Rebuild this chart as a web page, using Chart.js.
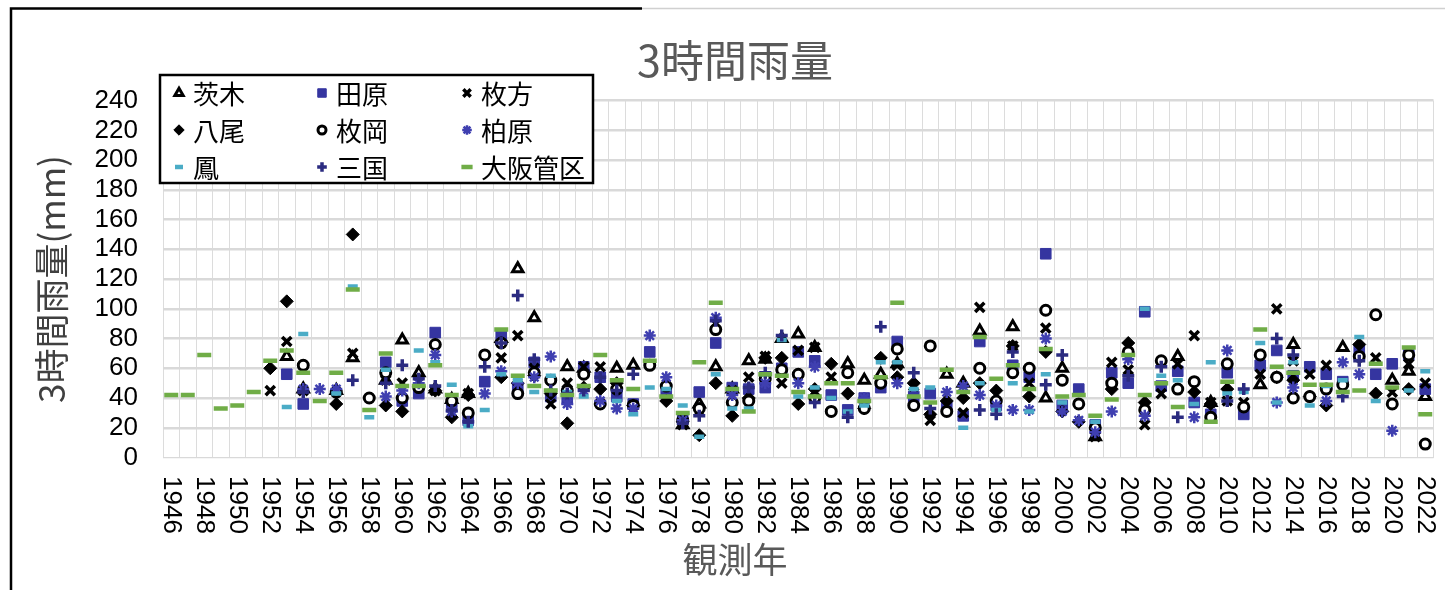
<!DOCTYPE html>
<html lang="ja">
<head>
<meta charset="utf-8">
<title>3時間雨量</title>
<script src="https://cdn.jsdelivr.net/npm/chart.js@4.4.0/dist/chart.umd.min.js"></script>
<style>
  html, body { margin: 0; padding: 0; background: #fff; }
  #wrap { width: 1445px; height: 590px; }
</style>
</head>
<body>
<div id="wrap"><canvas id="myChart" width="1445" height="590"></canvas></div>
<script>
const n = null;

const years = [1946, 1947, 1948, 1949, 1950, 1951,
  1952, 1953, 1954, 1955, 1956, 1957, 1958, 1959, 1960, 1961,
  1962, 1963, 1964, 1965, 1966, 1967, 1968, 1969, 1970, 1971,
  1972, 1973, 1974, 1975, 1976, 1977, 1978, 1979, 1980, 1981,
  1982, 1983, 1984, 1985, 1986, 1987, 1988, 1989, 1990, 1991,
  1992, 1993, 1994, 1995, 1996, 1997, 1998, 1999, 2000, 2001,
  2002, 2003, 2004, 2005, 2006, 2007, 2008, 2009, 2010, 2011,
  2012, 2013, 2014, 2015, 2016, 2017, 2018, 2019, 2020, 2021, 2022];

const ibaraki = [n, n, n, n, n, n,
  n, 68, 46, n, 45, 67, n, 52, 79, 57,
  46, 39, 43, n, 80, 127, 94, n, 61, 60,
  n, 60, 62, n, n, 22, 36, 61, 46, 65,
  66, 80, 83, 74, n, 63, 52, 56, 63, n,
  n, 56, 50, 85, n, 88, n, 40, 60, n,
  14, n, n, n, n, 68, n, 37, n, n,
  49, n, 76, n, n, 74, n, n, 52, 58, 41];

const tawara = [n, n, n, n, n, n,
  n, 56, 36, n, n, n, n, 64, 38, 43,
  84, 37, 25, 51, 83, 46, 64, 41, 40, 61,
  54, 41, 36, 71, 43, 26, 44, 77, 47, 46,
  47, 60, 71, 65, 42, 32, 40, 47, 78, 41,
  43, 34, 28, 78, 35, 62, 54, 137, 35, 46,
  22, 57, 50, 98, 48, 58, 37, 29, 57, 29,
  62, 72, 55, 61, 56, 51, 73, 56, 63, 69, 46];

const hirakata = [n, n, n, n, n, n,
  45, 78, 45, n, n, 70, n, 52, 50, 51,
  45, 29, 43, n, 67, 82, 60, 36, 50, 61,
  61, 49, 35, n, n, 22, 31, 90, 45, 54,
  68, 50, 72, 74, 54, n, n, n, 62, 48,
  25, n, 30, 101, n, 75, 50, 87, n, n,
  14, 64, 59, 22, 43, 63, 82, 37, 38, 37,
  56, 100, 65, 56, 62, n, n, 67, 44, 63, 50];

const yao = [n, n, n, n, n, n,
  60, 105, n, n, 36, 150, n, 35, 31, 48,
  45, 27, 42, n, 54, 50, 55, 43, 23, 47,
  46, 50, 35, n, 38, 24, 15, 50, 28, 40,
  67, 67, 36, 46, 63, 43, 33, 67, 54, 50,
  29, 38, 40, 50, 45, 75, 41, 71, 31, 24,
  n, 46, 77, 37, n, n, 44, 36, 46, n,
  n, 54, 52, 41, 35, n, 76, 43, n, 46, n];

const hiraoka = [n, n, n, n, n, n,
  n, n, 62, n, 44, n, 40, 57, 40, 47,
  76, 38, 30, 69, 77, 43, 57, 52, 45, 56,
  36, 46, 35, 62, 48, 25, 33, 86, 37, 38,
  53, 59, 56, 40, 31, 57, 33, 50, 73, 35,
  75, 31, n, 60, 38, 57, 60, 99, 52, 36,
  20, 50, 71, 32, 65, 46, 51, 27, 63, 34,
  69, 54, 40, 41, 46, 49, 68, 96, 36, 69, 9];

const kashiwara = [n, n, n, n, n, n,
  n, n, 46, 46, 46, n, n, 41, 45, 50,
  69, 31, n, 43, 58, 50, 54, 68, 36, 45,
  38, 33, 33, 82, 54, 25, n, 94, 42, n,
  50, n, 50, 61, n, n, 40, n, 50, n,
  n, 44, 48, 42, 35, 32, 32, 80, 31, 25,
  17, 31, 66, 28, n, n, 27, n, 72, n,
  n, 37, 47, n, 38, 64, 56, n, 18, n, n];

const otori = [n, n, n, n, n, n,
  n, 34, 83, n, 43, 115, 27, 59, n, 72,
  64, 49, 21, 32, 56, 52, 44, 55, 44, 41,
  n, 38, 29, 47, 46, 35, 14, 56, 33, 33,
  56, 79, 41, 47, 40, 31, 35, 64, 64, 46,
  47, n, 20, 50, 32, 50, 31, 56, 37, n,
  24, n, n, 100, 55, 52, 36, 64, 43, 44,
  77, 37, 64, 35, 48, 52, 81, 38, n, 45, 58];

const mikuni = [n, n, n, n, n, n,
  n, n, 44, n, n, 52, n, 50, 62, 53,
  48, 32, 24, 61, 77, 109, 66, 45, 43, 45,
  54, 45, 56, n, n, 23, 28, 92, n, 47,
  57, 82, n, 37, n, 27, n, 88, n, 57,
  33, n, n, 32, 29, 71, n, 49, 69, n,
  n, n, 55, n, 61, 27, n, n, 38, 46,
  n, 80, 69, n, n, 41, 65, n, n, n, n];

const osakaKanku = [42, 42, 69, 33, 35, 44,
  65, 72, 57, 38, 57, 113, 32, 70, 48, 48,
  62, 42, n, n, 86, 55, 48, 45, 42, 48,
  69, 52, 46, 65, 41, 30, 64, 104, 46, 31,
  56, 55, 44, 41, 50, 50, 38, 54, 104, 41,
  37, 59, 44, 81, 53, 62, 46, 73, 41, 42,
  28, 39, 69, 42, 50, 34, n, 24, 51, n,
  86, 61, 57, 49, 49, 44, 45, 63, 47, 74, 29];

const jpFont = '"Noto Sans CJK JP", "Noto Sans", sans-serif';

function series(label, data, style, radius, bg, border, bw) {
    return {
        label: label,
        data: data,
        showLine: false,
        pointStyle: style,
        pointRadius: radius,
        pointHoverRadius: radius,
        pointBackgroundColor: bg,
        pointBorderColor: border,
        pointBorderWidth: bw,
        backgroundColor: bg,
        borderColor: border
    };
}

const datasets = [
    series('茨木', ibaraki, 'triangle', 6, '#ffffff', '#000000', 3),
    series('田原', tawara, 'rect', 7.5, '#3535a0', '#3535a0', 1),
    series('枚方', hirakata, 'crossRot', 6.5, '#000000', '#000000', 3.5),
    series('八尾', yao, 'rectRot', 6.5, '#000000', '#000000', 1),
    series('枚岡', hiraoka, 'circle', 5, '#ffffff', '#000000', 3),
    series('柏原', kashiwara, 'star', 6, '#3f3fb0', '#3f3fb0', 2.5),
    series('鳳', otori, 'line', 5, '#4bacc6', '#4bacc6', 4.5),
    series('三国', mikuni, 'cross', 6, '#2b2b80', '#2b2b80', 3.5),
    series('大阪管区', osakaKanku, 'line', 7, '#70ad47', '#70ad47', 4.5)
];
datasets.forEach((d, i) => { d.order = datasets.length - i; });

// white page + black frame on the left / top
const framePlugin = {
    id: 'frame',
    beforeDraw(chart) {
        const ctx = chart.ctx;
        ctx.save();
        ctx.fillStyle = '#ffffff';
        ctx.fillRect(0, 0, chart.width, chart.height);
        ctx.lineWidth = 2.5;
        ctx.strokeStyle = '#000000';
        ctx.beginPath();
        ctx.moveTo(11, 590);
        ctx.lineTo(11, 8.5);
        ctx.lineTo(642, 8.5);
        ctx.stroke();
        ctx.strokeStyle = '#d0d0d0';
        ctx.lineWidth = 1.5;
        ctx.beginPath();
        ctx.moveTo(642, 8.5);
        ctx.lineTo(1445, 8.5);
        ctx.stroke();
        ctx.restore();
    }
};

// year labels, rotated clockwise, every second year
const yearLabels = {
    id: 'yearLabels',
    afterDraw(chart) {
        const ctx = chart.ctx, xs = chart.scales.x;
        ctx.save();
        ctx.font = '26px "Liberation Sans", Arial, sans-serif';
        ctx.fillStyle = '#000000';
        ctx.textAlign = 'left';
        ctx.textBaseline = 'middle';
        years.forEach((y, i) => {
            if (i % 2) return;
            ctx.save();
            ctx.translate(xs.getPixelForValue(i), 476);
            ctx.rotate(Math.PI / 2);
            ctx.fillText(String(y), 0, 0);
            ctx.restore();
        });
        ctx.restore();
    }
};

// boxed 3x3 legend inside the plot
const boxLegend = {
    id: 'boxLegend',
    afterDraw(chart) {
        const ctx = chart.ctx;
        const colX = [179, 322, 467], rowY = [93, 130, 167];
        ctx.save();
        ctx.fillStyle = '#ffffff';
        ctx.fillRect(160, 75, 433, 108);
        ctx.lineWidth = 2.5;
        ctx.strokeStyle = '#000000';
        ctx.strokeRect(160, 75, 433, 108);
        ctx.font = '26px ' + jpFont;
        ctx.textAlign = 'left';
        ctx.textBaseline = 'middle';
        chart.data.datasets.forEach((ds, i) => {
            const mx = colX[i % 3], my = rowY[Math.floor(i / 3)];
            ctx.fillStyle = ds.pointBackgroundColor;
            ctx.strokeStyle = ds.pointBorderColor;
            ctx.lineWidth = ds.pointBorderWidth;
            Chart.helpers.drawPoint(ctx, {
                pointStyle: ds.pointStyle,
                radius: ds.pointRadius * 0.8,
                rotation: 0,
                borderWidth: ds.pointBorderWidth
            }, mx, my);
            ctx.fillStyle = '#000000';
            ctx.fillText(ds.label, mx + 14, my + 1);
        });
        ctx.restore();
    }
};

Chart.defaults.font.family = '"Liberation Sans", Arial, sans-serif';
Chart.defaults.color = '#000000';

new Chart(document.getElementById('myChart'), {
    type: 'line',
    data: {
        labels: years.map(String),
        datasets: datasets
    },
    options: {
        responsive: false,
        devicePixelRatio: 1,
        animation: false,
        layout: { padding: { left: 34, right: 9, top: 0, bottom: 0 } },
        scales: {
            x: {
                type: 'category',
                offset: true,
                grid: { offset: true, color: '#dcdcdc', lineWidth: 1, drawTicks: false },
                border: { display: false },
                ticks: { display: false, autoSkip: false },
                afterFit: s => { s.height = 81.5; }
            },
            y: {
                min: 0,
                max: 240,
                ticks: { stepSize: 20, autoSkip: false, color: '#000000', padding: 25, font: { size: 26 } },
                grid: {
                    color: '#d9d9d9',
                    lineWidth: c => (c.tick && c.tick.value === 0 ? 1.2 : 2.5),
                    drawTicks: false
                },
                border: { display: false },
                title: {
                    display: true,
                    text: '3時間雨量(mm)',
                    color: '#404040',
                    font: { size: 35, family: jpFont, lineHeight: 1 },
                    padding: 0
                },
                afterFit: s => { s.width = 129; }
            }
        },
        plugins: {
            legend: { display: false },
            tooltip: { enabled: false },
            title: {
                display: true,
                text: '3時間雨量',
                color: '#595959',
                font: { size: 43, family: jpFont, weight: 'normal', lineHeight: 1.2 },
                padding: { top: 35, bottom: 14 }
            },
            subtitle: {
                display: true,
                position: 'bottom',
                text: '観測年',
                color: '#595959',
                font: { size: 35, family: jpFont, weight: 'normal', lineHeight: 1.2 },
                padding: { top: 0, bottom: 9 }
            }
        }
    },
    plugins: [framePlugin, yearLabels, boxLegend]
});
</script>
</body>
</html>
